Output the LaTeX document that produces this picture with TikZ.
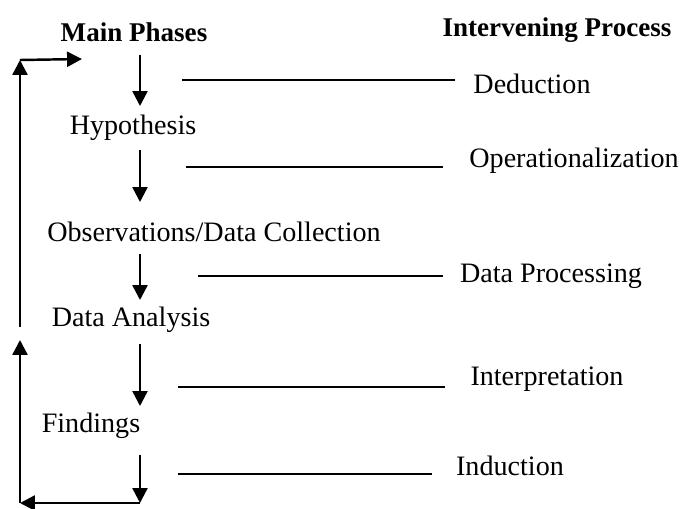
\documentclass[tikz,border=0pt]{standalone}
\usepackage{tikz}
\usepackage{fontspec}
\setmainfont{Liberation Serif}
\usetikzlibrary{arrows.meta}

\begin{document}
\begin{tikzpicture}[x=0.02cm,y=-0.02cm]
	\tikzset{every node/.style={inner sep=0pt,font=\fontsize{16}{19}\selectfont},
		head/.style={font=\fontsize{15.4}{18}\selectfont\bfseries},
		flow/.style={line width=1.4pt,-{Triangle[length=8.5pt,width=8.5pt]}},
		link/.style={line width=1.1pt}}
	\useasboundingbox (0,0) rectangle (686,508);
	% headings
	\node [head] (main) at (134,32) {Main Phases};
	\node [head] (inter) at (557,30) {Intervening Process};
	% phases
	\node (hyp) at (133,128) {Hypothesis};
	\node (obs) at (214,232) {Observations/Data Collection};
	\node (ana) at (131,320) {Data Analysis};
	\node (fin) at (91,426) {Findings};
	% processes
	\node (ded) at (532,84) {Deduction};
	\node (ope) at (574,161) {Operationalization};
	\node (pro) at (551,276) {Data Processing};
	\node (int) at (547,379) {Interpretation};
	\node (ind) at (510,466) {Induction};
	% arrow ends
	\coordinate (a1) at (140,55);  \coordinate (b1) at (140,106);
	\coordinate (a2) at (140,150); \coordinate (b2) at (140,202);
	\coordinate (a3) at (140,254); \coordinate (b3) at (140,300);
	\coordinate (a4) at (140,344); \coordinate (b4) at (140,406);
	\coordinate (a5) at (140,455); \coordinate (b5) at (140,503);
	\coordinate (c1) at (20,503);  \coordinate (c2) at (20,340);
	\coordinate (c3) at (20,327);  \coordinate (c4) at (20,60);
	\coordinate (c5) at (82,59);
	% line ends
	\coordinate (l1) at (182,80);  \coordinate (r1) at (455,80);
	\coordinate (l2) at (186,167); \coordinate (r2) at (443,167);
	\coordinate (l3) at (198,276); \coordinate (r3) at (443,276);
	\coordinate (l4) at (178,387); \coordinate (r4) at (445,387);
	\coordinate (l5) at (178,474); \coordinate (r5) at (432,474);
	% main flow
	\draw [flow] (a1) -- (b1);
	\draw [flow] (a2) -- (b2);
	\draw [flow] (a3) -- (b3);
	\draw [flow] (a4) -- (b4);
	\draw [flow] (a5) -- (b5);
	% feedback loop
	\draw [flow] (b5) -- (c1);
	\draw [flow] (c1) -- (c2);
	\draw [flow] (c3) -- (c4);
	\draw [flow] (c4) -- (c5);
	% process lines
	\draw [link] (l1) -- (r1);
	\draw [link] (l2) -- (r2);
	\draw [link] (l3) -- (r3);
	\draw [link] (l4) -- (r4);
	\draw [link] (l5) -- (r5);
\end{tikzpicture}
\end{document}
